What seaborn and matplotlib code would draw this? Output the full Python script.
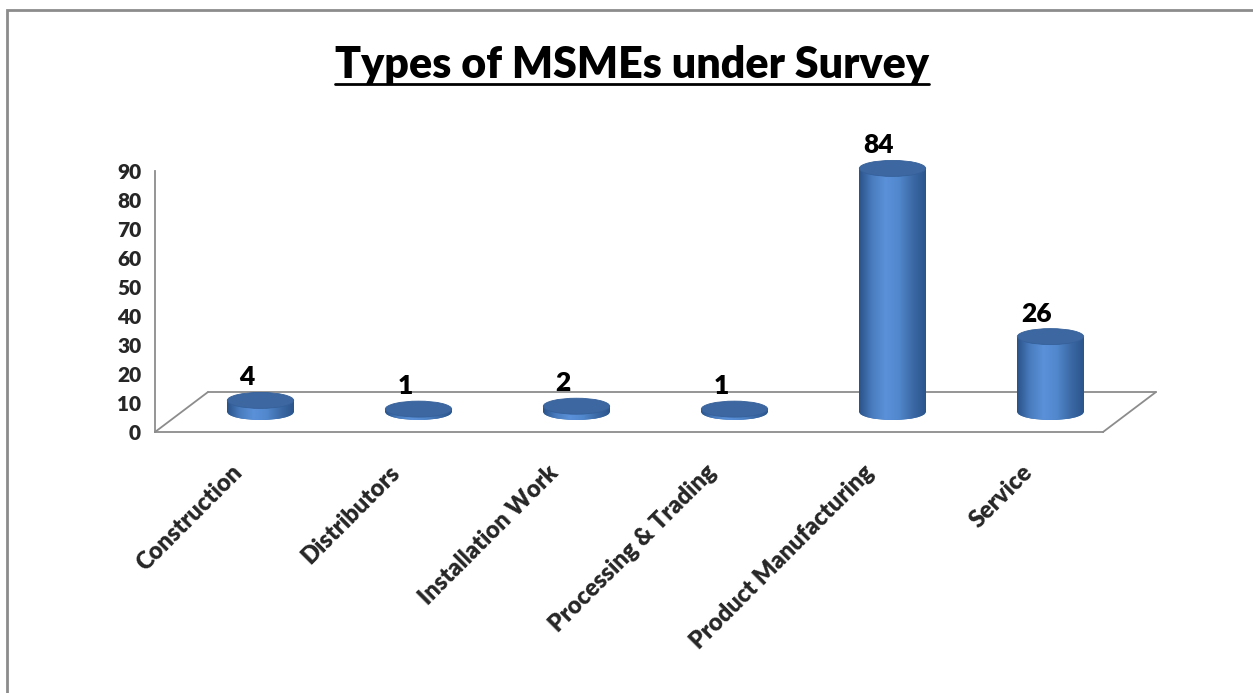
import matplotlib
matplotlib.use("Agg")
import matplotlib.pyplot as plt
import matplotlib.transforms as mtransforms
from matplotlib.patches import Ellipse, Rectangle
from matplotlib.colors import LinearSegmentedColormap
from matplotlib.lines import Line2D
import numpy as np
import pandas as pd
import seaborn as sns

# dados
categorias = ["Construction", "Distributors", "Installation Work",
              "Processing & Trading", "Product Manufacturing", "Service"]
valores = [4, 1, 2, 1, 84, 26]
ticks_y = list(range(0, 100, 10))
titulo = "Types of MSMEs under Survey"

df = pd.DataFrame({"tipo": categorias, "qtd": valores})

sns.set_style("white")
plt.rcParams["font.family"] = ["Lato", "DejaVu Sans"]
peso = "heavy"

W, H = 1253, 693
fig = plt.figure(figsize=(W / 100, H / 100), dpi=100)
px = fig.dpi_scale_trans  # 1 unidade = 100 px

# eixo "frontal": x de 155 a 1103 px, y=0 em 432 px, 2.9 px por unidade
ax = fig.add_axes([155 / W, 1 - 432 / H, (1103 - 155) / W, (110 * 2.9) / H])

cor_eixo = "#8c8c8c"
largura = 0.42

sns.barplot(data=df, x="tipo", y="qtd", ax=ax, width=largura,
            color="#4a7ebb", saturation=1, linewidth=0)
ax.set_xlim(-0.5, len(categorias) - 0.5)
ax.set_ylim(0, 110)

# barras ficam no meio da profundidade do "piso" 3D
desloc = mtransforms.ScaledTranslation(26.5 / 100, 20 / 100, px)
trans_barra = ax.transData + desloc
trans_rotulo = ax.transData + mtransforms.ScaledTranslation(13 / 100, 31 / 100, px)

gradiente = LinearSegmentedColormap.from_list(
    "cil", ["#2a5288", "#4a7dc0", "#5b91d9", "#5187cc", "#3c6aa6", "#2b548c"])
faixa = np.linspace(0, 1, 256).reshape(1, -1)
meia = 8 / 2.9  # meia altura da elipse em unidades de dado

barras = list(ax.patches)
for barra, v in zip(barras, valores):
    x0, w, h = barra.get_x(), barra.get_width(), barra.get_height()
    cx = x0 + w / 2
    barra.set_transform(trans_barra)
    barra.set_zorder(2)

    base = Ellipse((cx, 0), w, 2 * meia, transform=trans_barra,
                   facecolor="#4a7ebb", edgecolor="none", zorder=2)
    ax.add_patch(base)
    im_base = ax.imshow(faixa, cmap=gradiente, extent=[x0, x0 + w, -meia, meia],
                        aspect="auto", transform=trans_barra, zorder=2.1)
    im_base.set_clip_path(base)

    im = ax.imshow(faixa, cmap=gradiente, extent=[x0, x0 + w, 0, h],
                   aspect="auto", transform=trans_barra, zorder=2.2)
    im.set_clip_path(barra)

    topo = Ellipse((cx, h), w, 2 * meia, transform=trans_barra,
                   facecolor="#3d67a0", edgecolor="#35609a", lw=0.6, zorder=3)
    ax.add_patch(topo)

    ax.text(cx, h, str(v), ha="center", va="bottom", fontsize=19,
            fontweight=peso, color="black", transform=trans_rotulo)

ax.set_xlim(-0.5, len(categorias) - 0.5)
ax.set_ylim(0, 110)

# piso 3D
fundo = ax.transData + mtransforms.ScaledTranslation(53 / 100, 40 / 100, px)
ax.plot([-0.5, len(categorias) - 0.5], [0, 0], transform=fundo,
        color=cor_eixo, lw=1.3, clip_on=False, zorder=1)
for xb in (-0.5, len(categorias) - 0.5):
    ax.annotate("", xy=(xb, 0), xytext=(53, 40), textcoords="offset pixels",
                arrowprops=dict(arrowstyle="-", color=cor_eixo, lw=1.3,
                                shrinkA=0, shrinkB=0), annotation_clip=False)

for lado in ["top", "right"]:
    ax.spines[lado].set_visible(False)
for lado in ["left", "bottom"]:
    ax.spines[lado].set_color(cor_eixo)
    ax.spines[lado].set_linewidth(1.3)
ax.spines["left"].set_bounds(0, 90)

ax.set_yticks(ticks_y)
ax.set_yticklabels([str(t) for t in ticks_y], fontsize=15, fontweight=peso)
ax.tick_params(axis="y", direction="out", length=6, color=cor_eixo, width=1.3, pad=4)

ax.set_xticks(range(len(categorias)))
ax.set_xticks(np.arange(-0.5, len(categorias), 1), minor=True)
ax.set_xticklabels(categorias, rotation=45, ha="right", rotation_mode="anchor",
                   fontsize=17, fontweight=peso)
ax.tick_params(axis="x", which="major", length=0, pad=21)
ax.tick_params(axis="x", which="minor", direction="out", length=7,
               color=cor_eixo, width=1.3)
for rot in ax.get_xticklabels():
    rot.set_transform(rot.get_transform() + mtransforms.ScaledTranslation(-3 / 100, 0, px))

ax.set_xlabel("")
ax.set_ylabel("")
ax.grid(False)

# título sublinhado
t = fig.text(632 / W, 1 - 78 / H, titulo, ha="center", va="baseline",
             fontsize=31, fontweight=peso, color="black")
fig.canvas.draw()
bb = t.get_window_extent()
y_sub = 1 - 84 / H
fig.add_artist(Line2D([bb.x0 / W, bb.x1 / W], [y_sub, y_sub],
                      transform=fig.transFigure, color="black", lw=2))

# moldura do gráfico
fig.add_artist(Rectangle((7 / W, -0.1), 1.2, 1 - 10 / H + 0.1,
                         transform=fig.transFigure, fill=False,
                         edgecolor=cor_eixo, lw=2))

fig.savefig("out.png", dpi=100)
